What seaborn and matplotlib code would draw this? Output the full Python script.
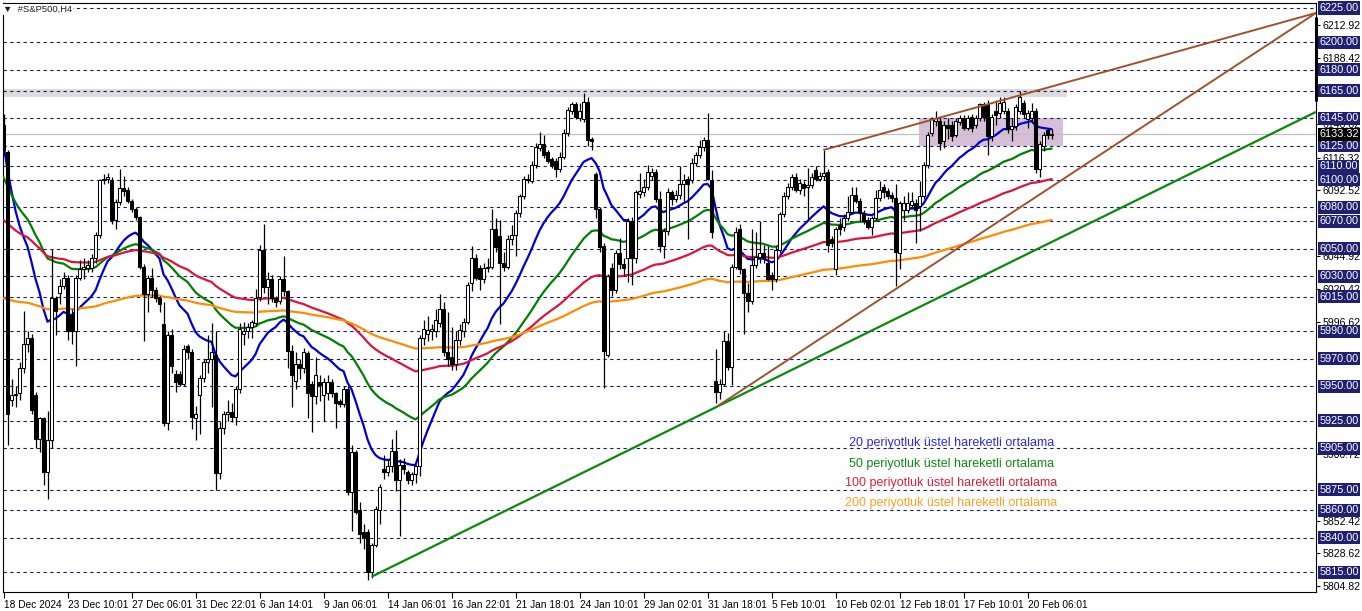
import numpy as np
import pandas as pd
import seaborn as sns
import matplotlib.pyplot as plt
from matplotlib.patches import Rectangle

# S&P500 H4 bars, 18 Dec 2024 -> 20 Feb 2025
opens = [6140, 6120, 5940, 5944, 5945, 5963, 5981, 5985, 5944, 5912,
         5927, 5888, 5911, 6014, 6018, 6023, 6029, 6002, 5990, 6029,
         6035, 6036, 6036, 6043, 6060, 6100, 6101, 6100, 6071, 6084,
         6094, 6093, 6085, 6079, 6073, 6037, 6017, 6029, 6020, 6014,
         5995, 5923, 5987, 5959, 5959, 5952, 5979, 5975, 5927, 5944,
         5956, 5968, 5970, 5973, 5887, 5920, 5930, 5931, 5928, 5948,
         5988, 5990, 5993, 5996, 6015, 6049, 6022, 6028, 6014, 6012,
         6028, 6019, 5976, 5954, 5966, 5963, 5974, 5952, 5943, 5953,
         5944, 5945, 5953, 5945, 5939, 5937, 5948, 5873, 5902, 5860,
         5844, 5844, 5815, 5835, 5860, 5890, 5888, 5892, 5903, 5882,
         5893, 5888, 5882, 5886, 5892, 5985, 5988, 5990, 5990, 5996,
         6006, 5975, 5971, 5966, 5984, 5990, 5997, 6025, 6043, 6036,
         6028, 6036, 6037, 6064, 6059, 6040, 6037, 6057, 6060, 6076,
         6088, 6101, 6099, 6111, 6123, 6126, 6120, 6115, 6114, 6108,
         6117, 6134, 6150, 6155, 6145, 6144, 6157, 6130, 6104, 6079,
         6052, 5973, 6036, 6020, 6047, 6039, 6043, 6070, 6043, 6090,
         6091, 6095, 6103, 6106, 6086, 6052, 6063, 6091, 6086, 6089,
         6097, 6101, 6100, 6112, 6118, 6124, 6129, 6100, 5954, 5946,
         5952, 5983, 5964, 6037, 6064, 6035, 6018, 6012, 6038, 6044,
         6047, 6040, 6031, 6028, 6049, 6075, 6088, 6095, 6102, 6093,
         6097, 6095, 6096, 6107, 6101, 6103, 6106, 6057, 6035, 6067,
         6066, 6072, 6077, 6089, 6085, 6076, 6071, 6066, 6072, 6087,
         6095, 6092, 6089, 6087, 6047, 6078, 6078, 6082, 6083, 6081,
         6088, 6111, 6134, 6143, 6143, 6128, 6140, 6140, 6133, 6142,
         6145, 6138, 6146, 6140, 6145, 6155, 6155, 6132, 6150, 6149,
         6150, 6150, 6137, 6139, 6150, 6156, 6144, 6145, 6150, 6108,
         6125, 6136, 6133]
highs = [6148, 6122, 5955, 5950, 5968, 6005, 5990, 5988, 5946, 5928,
         5928, 5932, 6050, 6016, 6028, 6033, 6031, 6006, 6031, 6042,
         6043, 6042, 6046, 6062, 6101, 6104, 6105, 6102, 6086, 6108,
         6103, 6095, 6086, 6080, 6074, 6039, 6031, 6036, 6022, 6016,
         6011, 5990, 5992, 5962, 5961, 5980, 5981, 5977, 5936, 5958,
         5970, 5987, 5996, 5990, 5925, 5932, 5940, 5938, 5950, 5996,
         5997, 5996, 5998, 6021, 6053, 6068, 6033, 6031, 6016, 6030,
         6045, 6020, 5980, 5975, 5970, 5978, 5976, 5954, 5971, 5958,
         5956, 5958, 5955, 5946, 5941, 5950, 5950, 5907, 5904, 5866,
         5850, 5846, 5836, 5863, 5879, 5900, 5897, 5912, 5918, 5897,
         5898, 5889, 5888, 5893, 5987, 5998, 6001, 5995, 6006, 6017,
         6011, 6004, 5993, 5990, 5995, 6000, 6026, 6052, 6046, 6038,
         6040, 6043, 6079, 6072, 6071, 6048, 6060, 6067, 6078, 6090,
         6103, 6104, 6114, 6127, 6135, 6133, 6122, 6117, 6116, 6120,
         6137, 6153, 6157, 6157, 6156, 6163, 6160, 6131, 6106, 6080,
         6054, 6032, 6040, 6049, 6058, 6043, 6072, 6073, 6093, 6105,
         6101, 6111, 6109, 6108, 6092, 6065, 6094, 6093, 6093, 6110,
         6104, 6103, 6116, 6120, 6129, 6131, 6149, 6107, 5977, 5955,
         5990, 5989, 6039, 6066, 6068, 6036, 6025, 6064, 6062, 6070,
         6053, 6052, 6033, 6052, 6077, 6091, 6098, 6104, 6105, 6101,
         6099, 6109, 6105, 6110, 6106, 6122, 6108, 6059, 6066, 6072,
         6075, 6088, 6095, 6095, 6087, 6078, 6073, 6074, 6093, 6099,
         6097, 6094, 6091, 6097, 6085, 6088, 6091, 6091, 6086, 6099,
         6113, 6135, 6146, 6150, 6146, 6143, 6145, 6143, 6145, 6147,
         6147, 6147, 6148, 6147, 6156, 6157, 6158, 6148, 6158, 6160,
         6160, 6152, 6145, 6155, 6165, 6158, 6151, 6156, 6152, 6128,
         6135, 6138, 6137]
lows = [6118, 5907, 5936, 5935, 5940, 5960, 5975, 5930, 5905, 5902,
        5878, 5868, 5905, 5987, 6010, 6021, 5984, 5981, 5965, 6027,
        6028, 6033, 6033, 6040, 6058, 6097, 6098, 6068, 6064, 6082,
        6088, 6083, 6077, 6071, 6035, 5983, 6004, 6015, 6011, 6004,
        5921, 5918, 5960, 5946, 5950, 5950, 5970, 5919, 5911, 5915,
        5953, 5960, 5935, 5875, 5883, 5915, 5925, 5924, 5922, 5945,
        5980, 5985, 5985, 5994, 6012, 6018, 6010, 6011, 6008, 6010,
        6016, 5963, 5935, 5948, 5955, 5960, 5927, 5917, 5937, 5939,
        5925, 5940, 5942, 5920, 5935, 5935, 5871, 5845, 5857, 5836,
        5832, 5809, 5811, 5833, 5850, 5883, 5885, 5888, 5874, 5841,
        5886, 5879, 5878, 5880, 5885, 5980, 5983, 5984, 5986, 5993,
        5972, 5965, 5962, 5962, 5980, 5986, 5995, 6019, 6027, 6020,
        6025, 6033, 6035, 6048, 5995, 6034, 6035, 6053, 6045, 6073,
        6086, 6098, 6098, 6109, 6121, 6116, 6112, 6109, 6102, 6106,
        6115, 6132, 6148, 6144, 6143, 6142, 6125, 6122, 6072, 6048,
        5949, 5971, 6016, 6018, 6035, 6030, 6026, 6024, 6040, 6087,
        6088, 6093, 6100, 6084, 6048, 6043, 6060, 6082, 6084, 6086,
        6085, 6057, 6098, 6110, 6116, 6121, 6100, 6058, 5938, 5941,
        5950, 5962, 5951, 6035, 6032, 5988, 6004, 6010, 6036, 6040,
        6040, 6027, 6020, 6026, 6047, 6073, 6086, 6093, 6091, 6090,
        6088, 6071, 6094, 6099, 6099, 6100, 6048, 6051, 6031, 6060,
        6063, 6070, 6075, 6083, 6070, 6068, 6064, 6060, 6070, 6085,
        6087, 6086, 6084, 6023, 6035, 6071, 6076, 6080, 6054, 6063,
        6086, 6109, 6132, 6139, 6122, 6123, 6130, 6128, 6131, 6140,
        6136, 6136, 6135, 6138, 6143, 6143, 6118, 6128, 6140, 6145,
        6148, 6134, 6128, 6136, 6148, 6145, 6138, 6143, 6105, 6102,
        6121, 6130, 6130]
closes = [6122, 5930, 5944, 5944, 5963, 5981, 5985, 5933, 5912, 5927,
          5888, 5911, 6014, 6005, 6023, 6029, 5990, 5990, 6029, 6035,
          6037, 6038, 6043, 6060, 6100, 6101, 6102, 6071, 6084, 6094,
          6092, 6085, 6079, 6073, 6037, 6017, 6029, 6020, 6014, 6010,
          5923, 5987, 5965, 5953, 5952, 5977, 5975, 5928, 5930, 5956,
          5968, 5970, 5975, 5887, 5920, 5930, 5931, 5928, 5948, 5992,
          5990, 5993, 5997, 6014, 6049, 6022, 6028, 6014, 6011, 6028,
          6019, 5976, 5958, 5966, 5963, 5975, 5945, 5943, 5958, 5951,
          5953, 5953, 5945, 5938, 5937, 5948, 5873, 5902, 5859, 5843,
          5840, 5815, 5835, 5861, 5877, 5888, 5892, 5903, 5882, 5893,
          5890, 5882, 5886, 5892, 5985, 5992, 5991, 5992, 5998, 6006,
          5975, 5970, 5966, 5984, 5991, 5997, 6024, 6043, 6029, 6028,
          6036, 6037, 6064, 6051, 6040, 6037, 6057, 6060, 6076, 6088,
          6101, 6100, 6111, 6124, 6126, 6118, 6114, 6111, 6108, 6117,
          6134, 6151, 6155, 6146, 6150, 6157, 6129, 6128, 6079, 6051,
          5976, 6030, 6020, 6047, 6039, 6036, 6070, 6043, 6091, 6092,
          6095, 6106, 6106, 6086, 6052, 6063, 6091, 6086, 6089, 6097,
          6100, 6097, 6112, 6118, 6124, 6129, 6101, 6062, 5946, 5952,
          5983, 5964, 6037, 6062, 6035, 6018, 6012, 6038, 6044, 6047,
          6043, 6028, 6028, 6049, 6075, 6088, 6095, 6102, 6093, 6098,
          6094, 6096, 6102, 6101, 6103, 6105, 6053, 6054, 6064, 6064,
          6072, 6077, 6089, 6085, 6076, 6070, 6066, 6072, 6087, 6093,
          6091, 6088, 6087, 6048, 6083, 6083, 6083, 6085, 6078, 6088,
          6111, 6133, 6144, 6145, 6127, 6140, 6138, 6132, 6143, 6145,
          6138, 6145, 6138, 6145, 6155, 6146, 6132, 6146, 6147, 6156,
          6157, 6137, 6139, 6153, 6160, 6148, 6149, 6150, 6108, 6126,
          6133, 6133, 6133.32]

date_ticks = [0, 16, 32, 48, 64, 80, 96, 112, 128, 144, 160, 176, 192, 208, 224, 240, 256]
date_labels = ['18 Dec 2024', '23 Dec 10:01', '27 Dec 06:01', '31 Dec 22:01', '6 Jan 14:01',
               '9 Jan 06:01', '14 Jan 06:01', '16 Jan 22:01', '21 Jan 18:01', '24 Jan 10:01',
               '29 Jan 02:01', '31 Jan 18:01', '5 Feb 10:01', '10 Feb 02:01', '12 Feb 18:01',
               '17 Feb 10:01', '20 Feb 06:01']

ema_periods = [20, 50, 100, 200]
ema_seeds = [6126, 6102, 6071, 6014]   # EMA values at the first visible bar
ema_colors = ['#0000d0', '#008000', '#dc143c', '#ff8c00']
ema_texts = ['20 periyotluk üstel hareketli ortalama', '50 periyotluk üstel hareketli ortalama',
             '100 periyotluk üstel hareketli ortalama', '200 periyotluk üstel hareketli ortalama']
text_colors = ['#2a2ae6', '#108a10', '#e0203c', '#ffa020']
text_prices = [5908.8, 5893.5, 5879.7, 5865.2]

levels = [6225, 6200, 6180, 6165, 6145, 6125, 6110, 6100, 6080, 6070, 6050,
          6030, 6015, 5990, 5970, 5950, 5925, 5905, 5875, 5860, 5840, 5815]
scale_ticks = [6212.92, 6188.42, 6140.82, 6116.32, 6092.52, 6044.92,
               6020.42, 5996.62, 5900.72, 5852.42, 5828.62, 5804.82]
last_price = 6133.32

band_zone = (6160.1, 6166.3, 265.9)          # low, high, last bar
range_box = (228.9, 264.9, 6124.7, 6145.1)   # bar from, bar to, low, high
green_trend = [(92.0, 5811.6), (328.1, 6149.5)]
brown_low = [(178.7, 5936.0), (328.1, 6221.4)]
brown_high = [(204.95, 6121.8), (328.1, 6221.4)]

sns.set_style("white")
plt.rcParams['font.family'] = ['Liberation Sans', 'DejaVu Sans']

W, H = 1362, 611
fig = plt.figure(figsize=(W / 100, H / 100), dpi=100)
ax = fig.add_axes([2.5 / W, 19 / H, 1313.5 / W, 589.5 / H])
x_left, x_right = -0.25, 328.1
ax.set_xlim(x_left, x_right)
ax.set_ylim(5800.5, 6229.0)

n = len(closes)
bars = pd.DataFrame({'bar': np.arange(n), 'open': opens, 'high': highs,
                     'low': lows, 'close': closes})

# background objects
ax.fill_between([x_left, band_zone[2]], band_zone[0], band_zone[1],
                color='#dcdcdc', lw=0, zorder=1)
ax.add_patch(Rectangle((range_box[0], range_box[2]), range_box[1] - range_box[0],
                       range_box[3] - range_box[2], fc='#d8bfd8', ec='none', zorder=1.5))
for lvl in levels:
    ax.axhline(lvl, color='#1a1a6e', lw=0.8, ls=(0, (3, 3)), zorder=2)
ax.axhline(last_price, color='#c0c0c0', lw=0.9, zorder=2)

# exponential moving averages
rows = []
for period, seed in zip(ema_periods, ema_seeds):
    a = 2.0 / (period + 1)
    val = seed
    for i, c in enumerate(closes):
        if i > 0:
            val = val + a * (c - val)
        rows.append({'bar': i, 'value': val, 'ema': f'EMA {period}'})
ema_df = pd.DataFrame(rows)
sns.lineplot(data=ema_df, x='bar', y='value', hue='ema', estimator=None,
             palette=dict(zip([f'EMA {p}' for p in ema_periods], ema_colors)),
             lw=1.6, legend=False, ax=ax, zorder=3)

# candles
up = bars['close'] >= bars['open']
ax.vlines(bars['bar'], bars['low'], bars['high'], color='black', lw=0.9, zorder=4)
body_lo = bars[['open', 'close']].min(axis=1)
body_h = (bars['close'] - bars['open']).abs().clip(lower=0.3)
ax.bar(bars['bar'], body_h, bottom=body_lo, width=0.62,
       color=np.where(up, 'white', 'black'), edgecolor='black', linewidth=0.75, zorder=5)

# trend lines
for line, col, lw in [(green_trend, '#0a8a0a', 1.6), (brown_low, '#a0522d', 1.4),
                      (brown_high, '#a0522d', 1.4)]:
    ax.plot([line[0][0], line[1][0]], [line[0][1], line[1][1]], color=col, lw=lw,
            zorder=6, solid_capstyle='butt')

for txt, col, y in zip(ema_texts, text_colors, text_prices):
    ax.text(237.0, y, txt, ha='center', va='center', fontsize=9, color=col, zorder=7)

# axes styling
ax.set_xlabel('')
ax.set_ylabel('')
for s in ax.spines.values():
    s.set_color('black')
    s.set_linewidth(0.8)
ax.yaxis.tick_right()
ax.set_yticks(scale_ticks)
ax.set_yticklabels([f'{t:.2f}' for t in scale_ticks])
ax.tick_params(axis='y', direction='out', length=3, width=0.8, pad=2,
               labelsize=7.6, colors='black', right=True, left=False)
ax.set_xticks(date_ticks)
ax.set_xticklabels(date_labels, ha='left')
ax.tick_params(axis='x', direction='out', length=4, width=0.8, pad=1.5,
               labelsize=7.3, colors='black', bottom=True)

ytrans = ax.get_yaxis_transform()
for lvl in levels:
    ax.annotate(f'{lvl:.2f}', xy=(1, lvl), xycoords=ytrans, xytext=(2.4, 0),
                textcoords='offset points', ha='left', va='center', fontsize=7.8,
                color='white', annotation_clip=False, zorder=10,
                bbox=dict(boxstyle='square,pad=0.14', fc='#202070', ec='none'))
ax.annotate(f'{last_price:.2f}', xy=(1, last_price), xycoords=ytrans, xytext=(2.4, 0),
            textcoords='offset points', ha='left', va='center', fontsize=7.8,
            color='white', annotation_clip=False, zorder=11,
            bbox=dict(boxstyle='square,pad=0.14', fc='black', ec='none'))
ax.plot([1, 1], [6218.5, 6157.4], transform=ytrans, color='black', lw=2.2,
        clip_on=False, solid_capstyle='butt', zorder=12)

fig.text(3 / W, 1 - 9.5 / H, '▼  #S&P500,H4', fontsize=6.8, va='center', ha='left',
         color='#202020', bbox=dict(fc='white', ec='none', pad=0.6))

fig.savefig('out.png', dpi=100, facecolor='white')
